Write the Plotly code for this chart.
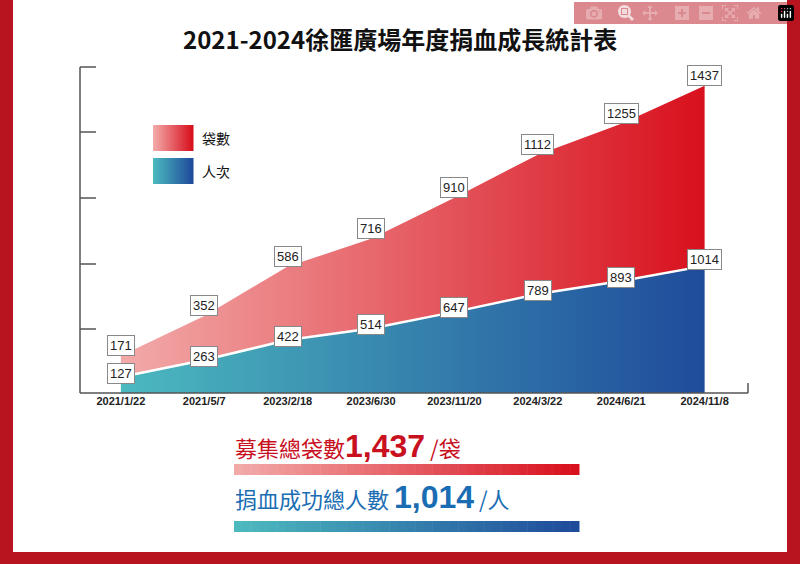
import plotly.graph_objects as go

dates = ["2021/1/22","2021/5/7","2023/2/18","2023/6/30","2023/11/20","2024/3/22","2024/6/21","2024/11/8"]
bags = [171, 352, 586, 716, 910, 1112, 1255, 1437]
people = [127, 263, 422, 514, 647, 789, 893, 1014]

x = list(range(len(dates)))
stacked = [b + p for b, p in zip(bags, people)]
FONT = "Noto Sans CJK TC"

fig = go.Figure()
fig.add_trace(go.Scatter(x=x, y=people, mode="lines", line=dict(color="white", width=2.5),
    fill="tozeroy", fillgradient=dict(type="horizontal", colorscale=[[0, "#4cb9bf"], [1, "#1f4b9b"]]),
    showlegend=False, hoverinfo="skip"))
fig.add_trace(go.Scatter(x=x, y=stacked, mode="lines", line=dict(width=0, color="rgba(0,0,0,0)"),
    fill="tonexty", fillgradient=dict(type="horizontal", colorscale=[[0, "#f2aaa9"], [1, "#d8101d"]]),
    showlegend=False, hoverinfo="skip"))

ann = []
def lab(xv, yv, t, ys=0):
    ann.append(dict(x=xv, y=yv, text=t, showarrow=False, yshift=ys,
        font=dict(family="Liberation Sans", size=13, color="#222"), bgcolor="white",
        bordercolor="#888", borderwidth=1, borderpad=2))
for i in x:
    lab(i, people[i], str(people[i]), 4 if i < len(x) - 1 else 6)
    lab(i, stacked[i], str(bags[i]), 10)

shapes = []
def px(p): return (p - 80) / 668
def py(p): return (393 - p) / 326
shapes.append(dict(type="rect", xref="paper", yref="paper", x0=px(13), x1=px(787), y0=py(552), y1=py(-5),
    fillcolor="white", line=dict(width=0), layer="below"))
ax = dict(color="#555", width=1.5)
shapes.append(dict(type="line", xref="paper", yref="paper", x0=0, x1=0, y0=0, y1=1, line=ax))
for t in [67, 132, 198, 264, 329]:
    shapes.append(dict(type="line", xref="paper", yref="paper", x0=0, x1=px(96), y0=py(t), y1=py(t), line=ax))
shapes.append(dict(type="line", xref="paper", yref="paper", x0=0, x1=1, y0=0, y1=0, line=ax))
shapes.append(dict(type="line", xref="paper", yref="paper", x0=1, x1=1, y0=0, y1=py(383), line=ax))

def hexrgb(h):
    h = h.lstrip("#"); return tuple(int(h[i:i+2], 16) for i in (0, 2, 4))
def grad(x0, x1, y0, y1, c0, c1, n=40):
    a, b = hexrgb(c0), hexrgb(c1)
    w = (x1 - x0) / n
    for k in range(n):
        f = k / (n - 1)
        c = "rgb(%d,%d,%d)" % tuple(round(a[j] + (b[j] - a[j]) * f) for j in range(3))
        shapes.append(dict(type="rect", xref="paper", yref="paper", x0=px(x0 + k * w), x1=px(x0 + (k + 1) * w + 0.5),
            y0=py(y1), y1=py(y0), fillcolor=c, line=dict(width=0)))
grad(153, 193, 125, 151, "#f2aaa9", "#d8101d")
grad(153, 193, 158, 184, "#4cb9bf", "#1f4b9b")
grad(234, 579, 464, 475, "#f2aaa9", "#d8101d")
grad(234, 579, 521, 532, "#4cb9bf", "#1f4b9b")

ann.append(dict(xref="paper", yref="paper", x=px(200), y=py(126), xanchor="left", showarrow=False,
    text="袋數", font=dict(family=FONT, size=14, color="#111")))
ann.append(dict(xref="paper", yref="paper", x=px(200), y=py(159), xanchor="left", showarrow=False,
    text="人次", font=dict(family=FONT, size=14, color="#111")))
ann.append(dict(xref="paper", yref="paper", x=px(400), y=py(19), showarrow=False,
    text="<b>2021-2024徐匯廣場年度捐血成長統計表</b>", font=dict(family=FONT, size=24, color="#111")))
ann.append(dict(xref="paper", yref="paper", x=px(233), y=py(466), xanchor="left", showarrow=False,
    text="募集總袋數<b><span style='font-size:32px;font-family:Liberation Sans'>1,437</span></b> /袋",
    font=dict(family=FONT, size=22, color="#c8101e")))
ann.append(dict(xref="paper", yref="paper", x=px(233), y=py(517), xanchor="left", showarrow=False,
    text="捐血成功總人數 <b><span style='font-size:32px;font-family:Liberation Sans'>1,014</span></b> /人",
    font=dict(family=FONT, size=22, color="#1a6db3")))

fig.update_layout(
    width=800, height=564, margin=dict(l=80, r=52, t=67, b=171),
    paper_bgcolor="#b8141f", plot_bgcolor="rgba(0,0,0,0)",
    xaxis=dict(range=[-0.49, 7.52], tickvals=x, ticktext=["<b>%s</b>" % d for d in dates],
        tickfont=dict(family="Liberation Sans", size=11, color="#222"), showgrid=False, zeroline=False,
        showline=False, ticks=""),
    yaxis=dict(range=[0, 2600], visible=False, showgrid=False),
    shapes=shapes, annotations=ann,
)
fig.write_html("out.html")
with open("out.html", encoding="utf-8") as f:
    html = f.read()
html = html.replace("<body>", "<body style=\"margin:0\">", 1)
with open("out.html", "w", encoding="utf-8") as f:
    f.write(html)
